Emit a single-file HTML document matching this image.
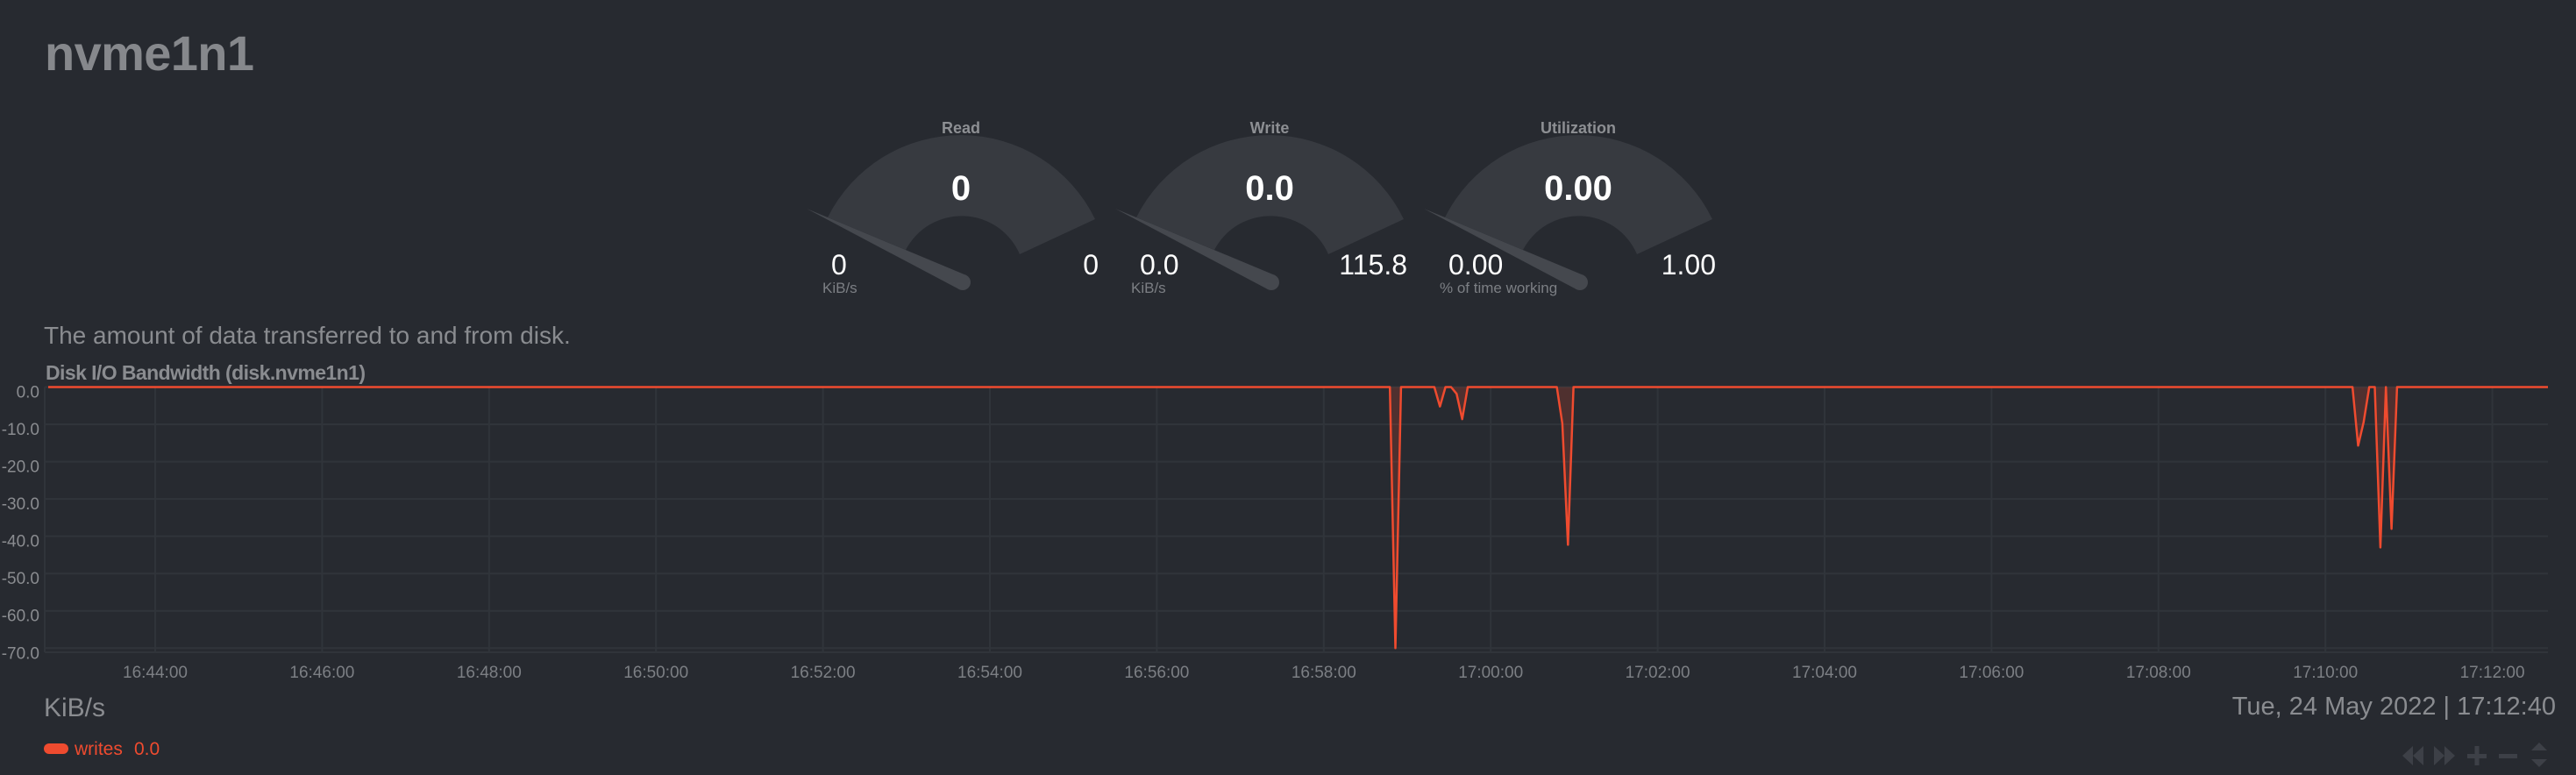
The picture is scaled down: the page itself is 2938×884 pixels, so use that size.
<!DOCTYPE html>
<html><head><meta charset="utf-8"><style>
html,body{margin:0;padding:0;background:#272a30;width:2938px;height:884px;overflow:hidden}
svg{display:block;font-family:"Liberation Sans",sans-serif}
</style></head><body>
<svg id="root" width="2938" height="884" viewBox="0 0 2938 884" xmlns="http://www.w3.org/2000/svg">
<rect width="2938" height="884" fill="#272a30"/>
<text x="51" y="80" font-size="56" font-weight="bold" fill="#86888c" textLength="239">nvme1n1</text>
<g id="gauges"></g>
<text x="50" y="392" font-size="28" fill="#8a8c90">The amount of data transferred to and from disk.</text>
<text x="52" y="433" font-size="23" font-weight="bold" fill="#8a8c90" textLength="365">Disk I/O Bandwidth (disk.nvme1n1)</text>
<g id="chart"></g>
<text x="50" y="817" font-size="30" fill="#8a8c90">KiB/s</text>
<rect x="50" y="848" width="28" height="12" rx="6" fill="#ef4b2f"/>
<text x="85" y="861" font-size="21" fill="#ef4b2f">writes</text>
<text x="153" y="861" font-size="21" fill="#ef4b2f">0.0</text>
<text x="2915" y="815" font-size="29" fill="#8a8c90" text-anchor="end">Tue, 24 May 2022 | 17:12:40</text>
<g fill="#3d4047">
<path d="M2740 862 l12 -11 v22 z M2752 862 l12 -11 v22 z"/>
<path d="M2776 851 l12 11 l-12 11 z M2788 851 l12 11 l-12 11 z"/>
<path d="M2814 860 h22 v5 h-22 z M2822.5 851 h5 v22 h-5 z"/>
<rect x="2850" y="860" width="21" height="5"/>
<path d="M2887 856 l9 -9 l9 9 z M2887 866 l9 9 l9 -9 z"/>
</g>
</svg>
<script>
// ---- chart data ----
const yTicks = [0, -10, -20, -30, -40, -50, -60, -70];
const yTickLabels = ["0.0", "-10.0", "-20.0", "-30.0", "-40.0", "-50.0", "-60.0", "-70.0"];
const xTickSeconds = [0, 120, 240, 360, 480, 600, 720, 840, 960, 1080, 1200, 1320, 1440, 1560, 1680];
const xTickLabels = ["16:44:00","16:46:00","16:48:00","16:50:00","16:52:00","16:54:00","16:56:00","16:58:00","17:00:00","17:02:00","17:04:00","17:06:00","17:08:00","17:10:00","17:12:00"];
// seconds relative to 16:44:00
const writeTimes = [-78, 887.5, 891.5, 895.5, 919.5, 923.5, 927.5, 931.5, 935.5, 939.5, 943.5, 1007.5, 1011.5, 1015.5, 1019.5, 1579.5, 1583.5, 1587.5, 1591.5, 1595.5, 1599.5, 1603.5, 1607.5, 1611.5, 1720];
const writeValues = [0, 0, -70, 0, 0, -5.2, 0, 0, -1.8, -8.6, 0, 0, -9.8, -42.3, 0, 0, -15.7, -9.4, 0, 0, -43.0, 0, -38.0, 0, 0];

const NS = "http://www.w3.org/2000/svg";
const X0 = 177, PXS = 190.4 / 120, PL = 51, PR = 2906, PT = 441.5, PB = 744;
const xs = s => X0 + s * PXS;
const ys = v => PT - v * 4.254;
const chart = document.getElementById('chart');
function mk(tag, attrs, parent) {
  const e = document.createElementNS(NS, tag);
  for (const k in attrs) e.setAttribute(k, attrs[k]);
  parent.appendChild(e);
  return e;
}
mk('rect', {x: PL, y: PT, width: PR - PL, height: PB - PT, fill: '#272a30'}, chart);
yTicks.forEach((v, i) => {
  const g = mk('line', {x1: PL, x2: PR, y1: ys(v), y2: ys(v), stroke: '#30343a', 'stroke-width': 2}, chart);
  
  
  const t = mk('text', {x: 45, y: ys(v) + 12, 'font-size': 19, fill: '#8a8c90', 'text-anchor': 'end'}, chart);
  t.textContent = yTickLabels[i];
  
  
});
xTickSeconds.forEach((s, i) => {
  const g = mk('line', {x1: xs(s), x2: xs(s), y1: PT, y2: PB, stroke: '#30343a', 'stroke-width': 2}, chart);
  
  
  const t = mk('text', {x: xs(s), y: 773, 'font-size': 19, fill: '#7c7f84', 'text-anchor': 'middle'}, chart);
  t.textContent = xTickLabels[i];
  
  
});
mk('line', {x1: PL, x2: PL, y1: PT, y2: PB, stroke: '#30343a', 'stroke-width': 2}, chart);
mk('line', {x1: PL, x2: PR, y1: PB, y2: PB, stroke: '#30343a', 'stroke-width': 2}, chart);
let d = '';
writeTimes.forEach((s, i) => {
  const x = Math.min(PR, Math.max(PL + 4, xs(s)));
  d += (i ? 'L' : 'M') + x.toFixed(1) + ',' + ys(writeValues[i]).toFixed(1);
});
const area = mk('path', {d: d + 'Z', fill: 'rgba(240,76,46,0.2)'}, chart);


const line = mk('path', {d: d, fill: 'none', stroke: '#ef4b2f', 'stroke-width': 2.5, 'stroke-linejoin': 'round'}, chart);



// ---- gauges ----
const gaugeTitles = ["Read", "Write", "Utilization"];
const gaugeValues = ["0", "0.0", "0.00"];
const gaugeMins = ["0", "0.0", "0.00"];
const gaugeMaxs = ["0", "115.8", "1.00"];
const gaugeUnits = ["KiB/s", "KiB/s", "% of time working"];
const gaugeCenters = [1096, 1448, 1800];
const gg = document.getElementById('gauges');
gaugeTitles.forEach((title, i) => {
  const cx = gaugeCenters[i];
  const g = mk('g', {transform: 'translate(' + cx + ',0)'}, gg);
  
  
  mk('path', {d: 'M-152,248 A170,170 0 0 1 153,250 L67,290 A72,72 0 0 0 -63,285 Z', fill: '#373a40'}, g);
  const vx = -178, vy = -84, L = Math.hypot(vx, vy), px = -vy / L * 9, py = vx / L * 9;
  mk('polygon', {points: `-176,238 ${2 + px},${322 + py} ${2 - px},${322 - py}`, fill: '#45484e'}, g);
  mk('circle', {cx: 2, cy: 322, r: 9, fill: '#45484e'}, g);
  const t1 = mk('text', {x: 0, y: 152, 'font-size': 18, 'font-weight': 'bold', fill: '#8d8f93', 'text-anchor': 'middle'}, g);
  t1.textContent = title;
  
  
  const t2 = mk('text', {x: 0, y: 228, 'font-size': 40, 'font-weight': 'bold', fill: '#ffffff', 'text-anchor': 'middle'}, g);
  t2.textContent = gaugeValues[i];
  
  
  const t3 = mk('text', {x: -148, y: 313, 'font-size': 32, fill: '#ffffff'}, g);
  t3.textContent = gaugeMins[i];
  
  
  const t4 = mk('text', {x: 157, y: 313, 'font-size': 32, fill: '#ffffff', 'text-anchor': 'end'}, g);
  t4.textContent = gaugeMaxs[i];
  
  
  const t5 = mk('text', {x: -158, y: 334, 'font-size': 17, fill: '#7c7f84'}, g);
  t5.textContent = gaugeUnits[i];
  
  
});
</script>
</body></html>
